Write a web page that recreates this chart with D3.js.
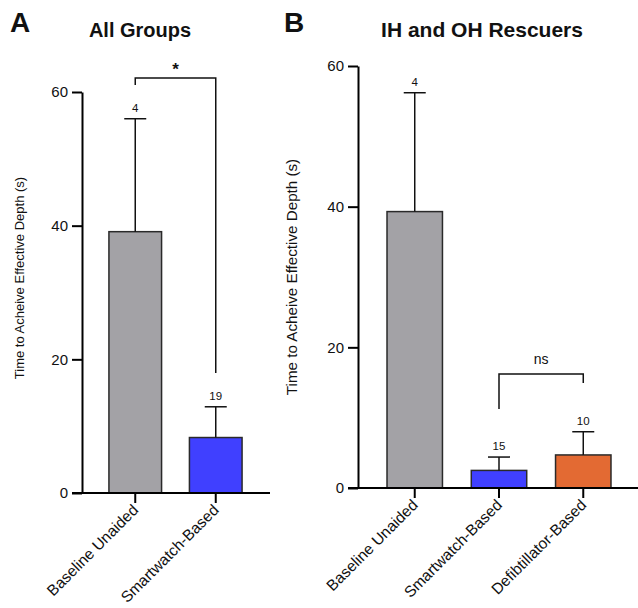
<!DOCTYPE html>
<html><head><meta charset="utf-8">
<script src="https://cdn.jsdelivr.net/npm/d3@7"></script>
<style>body{margin:0;background:#fff}svg{display:block}text{font-family:"Liberation Sans",Arial,Helvetica,sans-serif}</style>
</head><body>
<script>
const catsA = ["Baseline Unaided", "Smartwatch-Based"];
const meansA = [39.1, 8.3];
const errTopA = [56.0, 12.9];
const nA = [4, 19];
const colorsA = ["#a3a2a6", "#4040ff"];

const catsB = ["Baseline Unaided", "Smartwatch-Based", "Defibtillator-Based"];
const meansB = [39.3, 2.5, 4.7];
const errTopB = [56.2, 4.4, 8.0];
const nB = [4, 15, 10];
const colorsB = ["#a3a2a6", "#4040ff", "#e36a33"];

const yTicks = [0, 20, 40, 60];
const yLabel = "Time to Acheive Effective Depth (s)";

const svg = d3.select("body").append("svg").attr("width", 638).attr("height", 608);

function panel(o) {
  const g = svg.append("g");
  const y = d3.scaleLinear().domain([0, 60]).range([o.y0, o.y60]);
  const x = d3.scaleBand().domain(o.cats).range(o.xr).paddingInner(o.pi).paddingOuter(o.po);
  // bars
  g.selectAll("rect.bar").data(o.cats).join("rect").attr("class", "bar")
    .attr("x", d => x(d)).attr("width", x.bandwidth())
    .attr("y", (d, i) => y(o.means[i])).attr("height", (d, i) => y(0) - y(o.means[i]))
    .attr("fill", (d, i) => o.colors[i]).attr("stroke", "#2a2a2a").attr("stroke-width", 1.5);
  // error bars
  o.cats.forEach((d, i) => {
    const cx = x(d) + x.bandwidth() / 2;
    g.append("line").attr("x1", cx).attr("x2", cx).attr("y1", y(o.means[i])).attr("y2", y(o.errTop[i]))
      .attr("stroke", "#111").attr("stroke-width", 1.5);
    g.append("line").attr("x1", cx - 11).attr("x2", cx + 11).attr("y1", y(o.errTop[i])).attr("y2", y(o.errTop[i]))
      .attr("stroke", "#111").attr("stroke-width", 1.5);
    g.append("text").attr("x", cx).attr("y", y(o.errTop[i]) - 7).attr("text-anchor", "middle")
      .attr("font-size", 11.5).attr("fill", "#111").text(o.n[i]);
  });
  // y axis
  const ya = d3.axisLeft(y).tickValues(yTicks).tickSize(10).tickSizeOuter(0).tickPadding(4);
  const yg = g.append("g").attr("transform", `translate(${o.ax},0)`).call(ya);
  yg.select(".domain").attr("stroke", "#000").attr("stroke-width", 2);
  yg.selectAll(".tick line").attr("stroke", "#000").attr("stroke-width", 2);
  yg.selectAll(".tick text").attr("font-size", 15).attr("fill", "#111")
    .style("font-family", '"Liberation Sans",Arial,sans-serif');
  // x axis
  g.append("line").attr("x1", o.ax - 10).attr("x2", o.xEnd).attr("y1", y(0)).attr("y2", y(0))
    .attr("stroke", "#000").attr("stroke-width", 2);
  o.cats.forEach(d => {
    const cx = x(d) + x.bandwidth() / 2;
    g.append("line").attr("x1", cx).attr("x2", cx).attr("y1", y(0)).attr("y2", y(0) + 10)
      .attr("stroke", "#000").attr("stroke-width", 2);
    g.append("text").attr("transform", `translate(${cx + 4},${y(0) + 18}) rotate(-45)`)
      .attr("text-anchor", "end").attr("font-size", 15.5).attr("fill", "#111").text(d);
  });
  // y label
  g.append("text").attr("transform", `translate(${o.ylx},${o.ylc}) rotate(-90)`)
    .attr("text-anchor", "middle").attr("font-size", o.ylfs).attr("fill", "#111").text(yLabel);
  // title & letter
  g.append("text").attr("x", o.tx).attr("y", 37).attr("text-anchor", "middle").attr("font-size", o.tfs)
    .attr("font-weight", "bold").attr("fill", "#111").text(o.title);
  g.append("text").attr("x", o.lx).attr("y", 32).attr("font-size", 28)
    .attr("font-weight", "bold").attr("fill", "#111").text(o.letter);
  // significance bracket
  const s = o.sig;
  const x1 = x(o.cats[s.a]) + x.bandwidth() / 2, x2 = x(o.cats[s.b]) + x.bandwidth() / 2;
  g.append("path").attr("d", `M${x1},${s.ya}V${s.yh}H${x2}V${s.yb}`).attr("fill", "none")
    .attr("stroke", "#111").attr("stroke-width", 1.5);
  g.append("text").attr("x", (x1 + x2) / 2).attr("y", s.yh - s.off).attr("text-anchor", "middle")
    .attr("font-size", s.fs).attr("font-weight", s.fw).attr("fill", "#111").text(s.label);
}

panel({cats: catsA, means: meansA, errTop: errTopA, n: nA, colors: colorsA,
  y0: 493, y60: 92, xr: [95, 256], pi: 0.346, po: 0.173, ax: 82, xEnd: 270,
  ylx: 24, ylc: 278, ylfs: 13,
  title: "All Groups", tx: 140, tfs: 20, letter: "A", lx: 10,
  sig: {a: 0, b: 1, yh: 78, ya: 85, yb: 373, label: "*", off: 3, fs: 17, fw: "bold"}});

panel({cats: catsB, means: meansB, errTop: errTopB, n: nB, colors: colorsB,
  y0: 488, y60: 66, xr: [372.6, 625.4], pi: 0.342, po: 0.171, ax: 358, xEnd: 638,
  ylx: 297, ylc: 277, ylfs: 15.2,
  title: "IH and OH Rescuers", tx: 482, tfs: 21, letter: "B", lx: 284,
  sig: {a: 1, b: 2, yh: 374, ya: 409, yb: 383, label: "ns", off: 10, fs: 14, fw: "normal"}});
</script>
</body></html>
